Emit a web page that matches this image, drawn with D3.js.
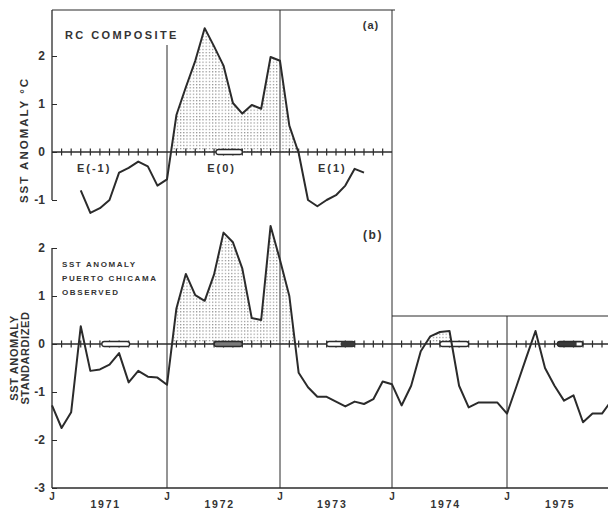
<!DOCTYPE html>
<html><head><meta charset="utf-8">
<script src="https://cdn.jsdelivr.net/npm/d3@7/dist/d3.min.js"></script>
<style>
html,body{margin:0;padding:0;background:#fff;}
svg{display:block;}
text{font-family:"Liberation Sans",Arial,sans-serif;font-weight:bold;fill:#333;}
</style></head>
<body>
<script>
// ---- data (month index k: 0 = Jan 1971) ----
const yearBoundaries = [0, 12, 24, 36, 48, 60];
const yearLabels = ["1971", "1972", "1973", "1974", "1975"];
const eventLabels = ["E(-1)", "E(0)", "E(1)"];

// (a) RC composite, months k = 3 .. 33
const compositeStart = 3;
const compositeValues = [-0.8, -1.27, -1.17, -1.0, -0.43, -0.33, -0.2, -0.3, -0.7, -0.57,
  0.77, 1.35, 1.9, 2.58, 2.2, 1.8, 1.02, 0.8, 0.98, 0.9, 1.98, 1.9,
  0.55, -0.02, -1.0, -1.13, -1.0, -0.9, -0.7, -0.35, -0.43];

// (b) Puerto Chicama observed, months k = 0 .. 59
const observedValues = [-1.28, -1.75, -1.42, 0.37, -0.56, -0.53, -0.43, -0.19, -0.8, -0.56, -0.68, -0.7,
  -0.85, 0.74, 1.46, 1.02, 0.9, 1.45, 2.32, 2.12, 1.57, 0.54, 0.5, 2.46,
  1.75, 1.0, -0.6, -0.9, -1.1, -1.1, -1.2, -1.3, -1.2, -1.25, -1.15, -0.78,
  -0.84, -1.28, -0.87, -0.15, 0.16, 0.25, 0.27, -0.87, -1.32, -1.22, -1.22, -1.22,
  -1.45, -0.88, -0.3, 0.27, -0.5, -0.87, -1.18, -1.07, -1.63, -1.45, -1.45, -1.18];

const compositeShade = [[12, 26]];
const observedShade = [[12, 26], [38, 43]];

// bars on zero line: [startMonth, endMonth, type]
const compositeBars = [[17.2, 20, "open"]];
const observedBars = [[5.2, 8.1, "open"], [17, 20, "gray"], [29, 32, "half"], [41, 44, "open"], [53.3, 56, "dark"]];

const topTicks = [-1, 0, 1, 2];
const bottomTicks = [-3, -2, -1, 0, 1, 2];

// ---- drawing ----
const W = 608, H = 511;
const ink = "#2b2b2b";
const svg = d3.select("body").append("svg").attr("width", W).attr("height", H);

const defs = svg.append("defs");
const pat = defs.append("pattern").attr("id", "dots").attr("patternUnits", "userSpaceOnUse")
  .attr("width", 3.2).attr("height", 3.2);
pat.append("rect").attr("x", 0.8).attr("y", 0.8).attr("width", 1.2).attr("height", 1.2).attr("fill", "#8a8a8a");

const x = d3.scaleLinear().domain(yearBoundaries).range([52, 167, 280, 392, 507, 621]);
const yA = d3.scaleLinear().domain([-1, 2]).range([200, 56]);
const yB = d3.scaleLinear().domain([-3, 2]).range([488, 248]);

const seriesA = compositeValues.map((v, i) => ({k: compositeStart + i, v}));
const seriesB = observedValues.map((v, i) => ({k: i, v}));

function line(sel, p1, p2, w) {
  sel.append("line").attr("x1", p1[0]).attr("y1", p1[1]).attr("x2", p2[0]).attr("y2", p2[1])
    .attr("stroke", ink).attr("stroke-width", w || 1);
}

// frame lines
line(svg, [x(0), 10], [x(36) + 3, 10], 1.2);
line(svg, [x(36), 10], [x(36), yB(-3)], 1);
line(svg, [x(24), 10], [x(24), yB(-3)], 1);
line(svg, [x(12), 45], [x(12), yB(-3)], 1);
line(svg, [x(48), 316], [x(48), yB(-3)], 1);
line(svg, [x(36), 316], [W, 316], 1);
line(svg, [x(0), yB(-3)], [W, yB(-3)], 1.3);

function panel(y, series, shades, bars, ticks, kMax, axisTop, clipId) {
  const g = svg.append("g");
  // left axis
  const ax = g.append("g").attr("transform", `translate(${x(0)},0)`)
    .call(d3.axisLeft(y).tickValues(ticks).tickSize(-5).tickPadding(7).tickFormat(d => String(d)));
  ax.select(".domain").remove();
  ax.selectAll("line").attr("stroke", ink).attr("stroke-width", 1);
  ax.selectAll("text").attr("font-size", 12).attr("fill", "#333")
    .style("font-family", "'Liberation Sans',Arial,sans-serif").style("font-weight", "bold");
  line(g, [x(0), axisTop], [x(0), y(ticks[0])], 1.3);

  // shading (positive area)
  defs.append("clipPath").attr("id", clipId).append("rect")
    .attr("x", 0).attr("y", 0).attr("width", W).attr("height", y(0));
  const area = d3.area().x(d => x(d.k)).y0(y(0)).y1(d => y(d.v));
  shades.forEach(([a, b]) => {
    g.append("path").datum(series.filter(d => d.k >= a && d.k <= b))
      .attr("d", area).attr("fill", "url(#dots)").attr("clip-path", `url(#${clipId})`);
  });

  // zero line with month ticks
  line(g, [x(0), y(0)], [x(kMax), y(0)], 1.3);
  d3.range(1, kMax).forEach(k => {
    if (k % 12 === 0) return;
    line(g, [x(k), y(0) - 3.5], [x(k), y(0) + 3.5], 1.2);
  });

  // bars
  bars.forEach(([s, e, t]) => {
    const x0 = x(s), x1 = x(e), h = 5;
    const fill = t === "gray" ? "#7a7a7a" : t === "dark" ? "#3a3a3a" : "#fff";
    g.append("rect").attr("x", x0).attr("y", y(0) - h / 2).attr("width", x1 - x0).attr("height", h)
      .attr("rx", 2.5).attr("fill", fill).attr("stroke", ink).attr("stroke-width", 1.3);
    if (t === "half") {
      g.append("rect").attr("x", (x0 + x1) / 2).attr("y", y(0) - h / 2).attr("width", (x1 - x0) / 2).attr("height", h)
        .attr("rx", 2).attr("fill", "#3a3a3a");
    }
    if (t === "dark") {
      g.append("rect").attr("x", x1 - (x1 - x0) * 0.25).attr("y", y(0) - h / 2 + 1).attr("width", (x1 - x0) * 0.2).attr("height", h - 2)
        .attr("fill", "#fff");
    }
  });

  // data line
  g.append("path").datum(series)
    .attr("d", d3.line().x(d => x(d.k)).y(d => y(d.v)))
    .attr("fill", "none").attr("stroke", ink).attr("stroke-width", 2).attr("stroke-linejoin", "round");
  return g;
}

panel(yA, seriesA, compositeShade, compositeBars, topTicks, 36, 10, "clipA");
panel(yB, seriesB, observedShade, observedBars, bottomTicks, 64, 248, "clipB");

function txt(s, px, py, size, opts) {
  const t = svg.append("text").attr("x", px).attr("y", py).attr("font-size", size).text(s);
  if (opts && opts.anchor) t.attr("text-anchor", opts.anchor);
  if (opts && opts.ls) t.attr("letter-spacing", opts.ls);
  if (opts && opts.rot) t.attr("transform", `rotate(-90,${px},${py})`);
  return t;
}

// panel texts
txt("RC COMPOSITE", 65, 39, 11, {ls: 2.4});
txt("(a)", 371, 29, 11, {anchor: "middle", ls: 1});
txt("(b)", 373, 239, 12, {anchor: "middle", ls: 1.5});
const eMid = [4.4, 17.8, 29.6];
eventLabels.forEach((s, i) => txt(s, x(eMid[i]), 172, 11, {anchor: "middle", ls: 2}));

txt("SST ANOMALY", 62, 267, 8, {ls: 1.6});
txt("PUERTO CHICAMA", 62, 281, 8, {ls: 1.6});
txt("OBSERVED", 62, 295, 8, {ls: 1.6});

// y labels
txt("SST ANOMALY °C", 28, 140, 11.5, {anchor: "middle", ls: 2, rot: true});
txt("SST ANOMALY", 18, 358, 11, {anchor: "middle", ls: 0.6, rot: true});
txt("STANDARDIZED", 29, 358, 11, {anchor: "middle", ls: 0.6, rot: true});

// x labels
yearBoundaries.filter(k => x(k) < W - 4).forEach(k => txt("J", x(k), 500, 10, {anchor: "middle"}));
yearLabels.forEach((s, i) => txt(s, x(i * 12 + 5.6), 508, 10.5, {anchor: "middle", ls: 1.8}));
</script>
</body></html>
